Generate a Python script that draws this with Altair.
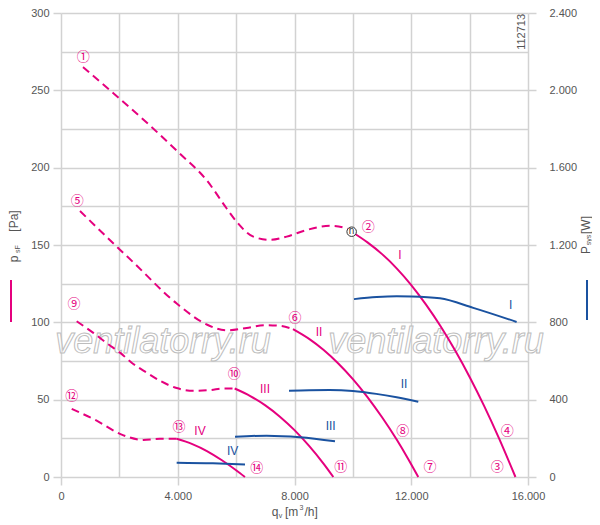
import altair as alt
import pandas as pd

# ---------------- data ----------------
# pressure curves p_sF [Pa] : dashed (unstable) part and solid part
p1_dash_q = [754, 1679, 3049, 4020, 4991, 5677, 6019, 6589, 7160, 7732, 8417, 9215, 9787, 9958]
p1_dash_p = [265, 250, 227.2, 210, 191.9, 173.6, 165, 155.4, 153.3, 155.4, 159.7, 162.4, 160.7, 158.6]
p1_sol_q = [9958, 10500, 11000, 11500, 12000, 12500, 13000, 13500, 14000, 14500, 15000, 15570]
p1_sol_p = [158.6, 151.7, 144.1, 134.9, 124.1, 111.6, 97.6, 81.9, 64.7, 45.8, 25.3, 0]

p2_dash_q = [651, 1918, 2467, 3974, 4991, 5676, 6361, 7000, 7500, 7948]
p2_dash_p = [172, 148.8, 139, 112, 98.6, 94.8, 96.4, 98.2, 97.8, 95.6]
p2_sol_q = [7948, 8500, 9000, 9500, 10000, 10500, 11000, 11500, 11900, 12241]
p2_sol_p = [95.6, 89.3, 82.1, 73.4, 63.3, 51.7, 38.6, 24.2, 11.5, 0]

p3_dash_q = [537, 1107, 1621, 2021, 2421, 2935, 3392, 3963, 4533, 5105, 5600, 5950]
p3_dash_p = [100.7, 93.2, 85.8, 80.4, 73.9, 67.5, 62.2, 57.5, 55.7, 56.2, 57.3, 57.2]
p3_sol_q = [5950, 6500, 7000, 7500, 8000, 8500, 9000, 9330]
p3_sol_p = [57.2, 52.2, 46.3, 39.0, 30.3, 20.1, 8.5, 0]

p4_dash_q = [367, 1222, 2021, 2820, 3392, 3963]
p4_dash_p = [44, 36.4, 27.9, 24, 24.7, 24.7]
p4_sol_q = [3963, 4500, 5000, 5500, 6000, 6304]
p4_sol_p = [24.7, 21.3, 16.8, 11.0, 4.4, 0]

# power curves P_sys [W]
w1_q = [10038, 10815, 11500, 12014, 12984, 14125, 15610]
w1_w = [920, 931, 935, 934, 924, 875, 802]
w2_q = [7811, 8500, 9200, 10000, 10800, 11500, 12241]
w2_w = [446, 449, 450, 445, 430, 412, 389]
w3_q = [5961, 7046, 8188, 9387]
w3_w = [208, 214, 206, 185]
w4_q = [3963, 5200, 6304]
w4_w = [74, 71, 65]

# curve labels
pink_roman = ["I", "II", "III", "IV"]
pink_roman_q = [11614, 8839, 6989, 4762]
pink_roman_p = [143.7, 93.6, 57, 30]
blue_roman = ["I", "II", "III", "IV"]
blue_roman_q = [15405, 11751, 9240, 5882]
blue_roman_w = [892, 480, 266, 137]

circ_txt = ["①", "②", "③", "④", "⑤", "⑥", "⑦", "⑧", "⑨", "⑩", "⑪", "⑫", "⑬", "⑭"]
circ_q = [764, 10528, 14947, 15290, 558, 8016, 12641, 11706, 445, 5937, 9582, 367, 4042, 6705]
circ_p = [271.5, 161.8, 6.4, 29.6, 178.5, 102.5, 6.4, 29.6, 111.9, 66.9, 6.4, 52.5, 32.1, 5.8]

eta_q = [9958]
eta_p = [158.6]

wm_txt = ["ventilatorry.ru", "ventilatorry.ru"]
wm_q = [3494, 12847]
wm_p = [80.2, 80.2]

code_txt = ["112713"]
code_q = [15783]
code_p = [287.8]

x_ticks = list(range(0, 16001, 2000))
yl_ticks = list(range(0, 301, 25))
yr_ticks = list(range(0, 2401, 400))

# ---------------- styles ----------------
PINK = "#e5007e"
BLUE = "#1a52a0"
GRID = "#d2d2d2"
LBL = "#555555"
FONT = "Liberation Sans"
CJK = "Noto Sans CJK SC"


def frame(q, v, name, col):
    return pd.DataFrame({"q": q, col: v, "series": name})


pink_dash = pd.concat([frame(p1_dash_q, p1_dash_p, "1", "p"), frame(p2_dash_q, p2_dash_p, "2", "p"),
                       frame(p3_dash_q, p3_dash_p, "3", "p"), frame(p4_dash_q, p4_dash_p, "4", "p")])
pink_sol = pd.concat([frame(p1_sol_q, p1_sol_p, "1", "p"), frame(p2_sol_q, p2_sol_p, "2", "p"),
                      frame(p3_sol_q, p3_sol_p, "3", "p"), frame(p4_sol_q, p4_sol_p, "4", "p")])
blue_df = pd.concat([frame(w1_q, w1_w, "1", "W"), frame(w2_q, w2_w, "2", "W"),
                     frame(w3_q, w3_w, "3", "W"), frame(w4_q, w4_w, "4", "W")])

fmt = "replace(format(datum.value, ','), ',', '.')"

x_axis = alt.Axis(values=x_ticks, grid=True, gridColor=GRID, gridWidth=1.5, domain=False,
                  tickColor=GRID, tickWidth=1.5, tickSize=8,
                  tickOpacity={"condition": {"test": "datum.value % 4000 != 0", "value": 0}, "value": 1},
                  labelExpr=f"datum.value % 4000 == 0 ? {fmt} : ''",
                  labelFont=FONT, labelFontSize=11, labelColor=LBL, labelPadding=5,
                  labelFlush=False, labelOverlap=False, title=None)
X = alt.X("q:Q", scale=alt.Scale(domain=[0, 16000], nice=False, zero=False), axis=x_axis)

yl_axis = alt.Axis(values=yl_ticks, grid=True, gridColor=GRID, gridWidth=1.5, domain=False,
                   tickColor=GRID, tickWidth=1.5, tickSize=8, orient="left",
                   tickOpacity={"condition": {"test": "datum.value % 50 != 0", "value": 0}, "value": 1},
                   labelExpr="datum.value % 50 == 0 ? '' + datum.value : ''",
                   labelFont=FONT, labelFontSize=11, labelColor=LBL, labelPadding=4,
                   labelFlush=False, labelOverlap=False, title=None)
PS = alt.Scale(domain=[0, 300], nice=False, zero=False)
WS = alt.Scale(domain=[0, 2400], nice=False, zero=False)

yr_axis = alt.Axis(values=yr_ticks, grid=False, domain=False, orient="right",
                   tickColor=GRID, tickWidth=1.5, tickSize=8,
                   labelExpr=fmt, labelFont=FONT, labelFontSize=11, labelColor=LBL, labelPadding=13,
                   labelFlush=False, labelOverlap=False, title=None)

layers = []

# watermark
wm = alt.Chart(pd.DataFrame({"q": wm_q, "p": wm_p, "t": wm_txt})).mark_text(
    font=FONT, fontSize=36, fontStyle="italic", align="center", baseline="alphabetic",
    fill="white", fillOpacity=0.55, stroke="#bdbdbd", strokeWidth=1
).encode(x=X, y=alt.Y("p:Q", scale=PS, axis=yl_axis), text="t:N")
layers.append(wm)

dash = alt.Chart(pink_dash).mark_line(color=PINK, strokeWidth=2, strokeDash=[8, 5],
                                       interpolate="monotone").encode(
    x=X, y=alt.Y("p:Q", scale=PS, axis=None), detail="series:N", order="q:Q")
layers.append(dash)

sol = alt.Chart(pink_sol).mark_line(color=PINK, strokeWidth=2, interpolate="monotone").encode(
    x=X, y=alt.Y("p:Q", scale=PS, axis=None), detail="series:N", order="q:Q")
layers.append(sol)

blue = alt.Chart(blue_df).mark_line(color=BLUE, strokeWidth=2, interpolate="monotone").encode(
    x=X, y=alt.Y("W:Q", scale=WS, axis=yr_axis), detail="series:N", order="q:Q")
layers.append(blue)

pr = alt.Chart(pd.DataFrame({"q": pink_roman_q, "p": pink_roman_p, "t": pink_roman})).mark_text(
    font=FONT, fontSize=12, color=PINK, align="center", baseline="middle"
).encode(x=X, y=alt.Y("p:Q", scale=PS, axis=None), text="t:N")
layers.append(pr)

br = alt.Chart(pd.DataFrame({"q": blue_roman_q, "W": blue_roman_w, "t": blue_roman})).mark_text(
    font=FONT, fontSize=12, color=BLUE, align="center", baseline="middle"
).encode(x=X, y=alt.Y("W:Q", scale=WS, axis=None), text="t:N")
layers.append(br)

circ = alt.Chart(pd.DataFrame({"q": circ_q, "p": circ_p, "t": circ_txt})).mark_text(
    font=CJK, fontSize=13, color=PINK, align="center", baseline="middle"
).encode(x=X, y=alt.Y("p:Q", scale=PS, axis=None), text="t:N")
layers.append(circ)

eta_pt = alt.Chart(pd.DataFrame({"q": eta_q, "p": eta_p})).mark_point(
    shape="circle", size=90, filled=True, fill="white", stroke="#333333", strokeWidth=1, opacity=1
).encode(x=X, y=alt.Y("p:Q", scale=PS, axis=None))
layers.append(eta_pt)
eta_tx = alt.Chart(pd.DataFrame({"q": eta_q, "p": eta_p, "t": ["n"]})).mark_text(
    font=FONT, fontSize=10, color="#333333", align="center", baseline="middle", dy=-1
).encode(x=X, y=alt.Y("p:Q", scale=PS, axis=None), text="t:N")
layers.append(eta_tx)

code = alt.Chart(pd.DataFrame({"q": code_q, "p": code_p, "t": code_txt})).mark_text(
    font=FONT, fontSize=11, color=LBL, angle=270, align="center", baseline="middle"
).encode(x=X, y=alt.Y("p:Q", scale=PS, axis=None), text="t:N")
layers.append(code)


def piece(text, x, y, size=12, color=LBL, angle=0, align="center"):
    return alt.Chart(pd.DataFrame({"t": [text]})).mark_text(
        font=FONT, fontSize=size, color=color, angle=angle, align=align, baseline="middle"
    ).encode(x=alt.value(x), y=alt.value(y), text="t:N")


def bar(x, y1, y2, color):
    return alt.Chart(pd.DataFrame({"a": [0]})).mark_rule(color=color, strokeWidth=2).encode(
        x=alt.value(x), y=alt.value(y1), y2=alt.value(y2))


# left axis title  p_sF [Pa]
layers += [piece("p", -47, 246, angle=270), piece("sF", -43.5, 236, size=7, angle=270),
           piece("[Pa]", -47, 208, angle=270), bar(-50, 267, 309, PINK)]
# right axis title  P_sys [W]
layers += [piece("P", 524.5, 237, angle=270), piece("sys", 528, 227, size=7, angle=270),
           piece("[W]", 525, 212, angle=270), bar(526, 267, 307, BLUE)]
# bottom title  q_v [m³/h]
layers += [piece("q", 214, 499), piece("v", 219.5, 503, size=7),
           piece("[m", 224, 499, align="left"), piece("3", 240.5, 495, size=7),
           piece("/h]", 243.5, 499, align="left")]

chart = alt.layer(*layers).resolve_scale(y="independent").properties(
    width=467, height=464,
    padding={"left": 53, "top": 5, "right": 64, "bottom": 44},
    autosize=alt.AutoSizeParams(type="none"),
).configure_view(strokeWidth=0)

chart.save("out.html", embed_options={"renderer": "svg", "actions": False})
